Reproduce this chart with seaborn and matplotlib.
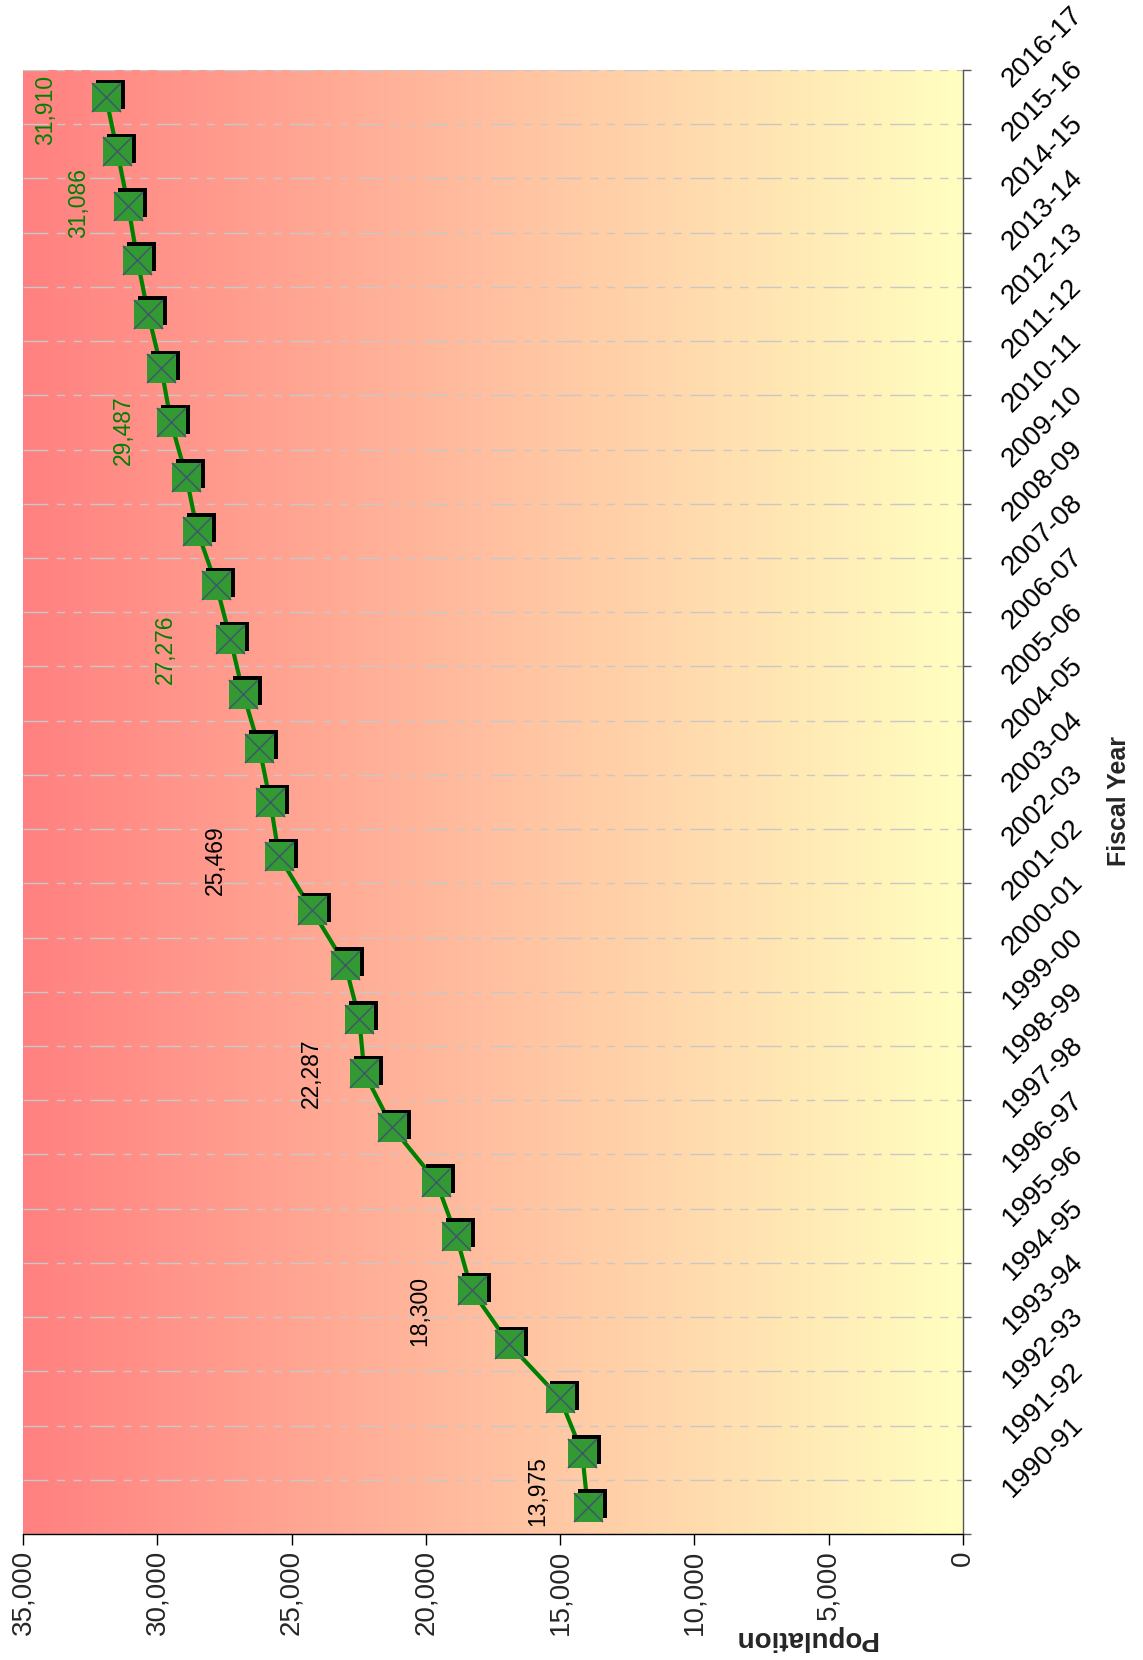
import numpy as np
import pandas as pd
import matplotlib
matplotlib.use("Agg")
import matplotlib.pyplot as plt
import matplotlib.transforms as mtransforms
import seaborn as sns

years = ["1990-91", "1991-92", "1992-93", "1993-94", "1994-95", "1995-96",
         "1996-97", "1997-98", "1998-99", "1999-00", "2000-01", "2001-02",
         "2002-03", "2003-04", "2004-05", "2005-06", "2006-07", "2007-08",
         "2008-09", "2009-10", "2010-11", "2011-12", "2012-13", "2013-14",
         "2014-15", "2015-16", "2016-17"]
population = [13975, 14180, 15000, 16890, 18300, 18870,
              19610, 21250, 22287, 22480, 23000, 24230,
              25469, 25790, 26200, 26800, 27276, 27800,
              28510, 28920, 29487, 29850, 30340, 30740,
              31086, 31490, 31910]

# years that carry a value label, and the label colour
label_years = ["1990-91", "1994-95", "1998-99", "2002-03",
               "2006-07", "2010-11", "2014-15", "2016-17"]
label_colors = ["black", "black", "black", "black",
                "#008000", "#008000", "#008000", "#008000"]
# nudges of the value labels, in pixels (right, down)
label_dx = [-50, -52, -53, -64, -65, -48, -50, -60]
label_dy = [-16, 21, 0, 4, 10, 8, -3, 13]

pop_ticks = [0, 5000, 10000, 15000, 20000, 25000, 30000, 35000]

sns.set_style("white")
plt.rcParams["font.family"] = ["Liberation Sans", "DejaVu Sans"]

df = pd.DataFrame({"year": years, "population": population})
df["pos"] = np.arange(len(df))

fig = plt.figure(figsize=(11.43, 16.60), dpi=100)
ax = fig.add_axes([23 / 1143, 126 / 1660, 940 / 1143, 1464 / 1660])

# gradient fill of the plot area
c0 = np.array([255, 128, 128]) / 255
c1 = np.array([255, 255, 192]) / 255
t = np.linspace(0, 1, 512)
img = c0[None, None, :] + (c1 - c0)[None, None, :] * t[None, :, None]
ax.imshow(img, extent=[0, 1, 0, 1], transform=ax.transAxes,
          aspect="auto", zorder=0, interpolation="bilinear")

# line
sns.lineplot(data=df, x="population", y="pos", sort=False, orient="y",
             estimator=None, color="#008000", linewidth=3.0, ax=ax, zorder=2)

# marker shadow, square, cross
msize = (29 * 0.72) ** 2
sns.scatterplot(data=df, x="population", y="pos", marker="s", s=msize,
                color="black", linewidth=0, ax=ax, zorder=3)
coll = ax.collections[-1]
coll.set_offset_transform(ax.transData +
                          mtransforms.ScaledTranslation(0.04, 0.035, fig.dpi_scale_trans))
sns.scatterplot(data=df, x="population", y="pos", marker="s", s=msize,
                color="#339933", linewidth=0, ax=ax, zorder=4)
sns.scatterplot(data=df, x="population", y="pos", marker="x", s=msize,
                color="#3d5a68", linewidth=1.1, ax=ax, zorder=5)

# value labels
for yr, c, dx, dy in zip(label_years, label_colors, label_dx, label_dy):
    i = years.index(yr)
    v = population[i]
    ax.annotate(f"{v:,}", xy=(v, i), xytext=(dx * 0.72, -dy * 0.72),
                textcoords="offset points", rotation=90, ha="center",
                va="center", fontsize=16.5, color=c, zorder=6)

ax.set_xlim(35000, 0)
ax.set_ylim(-0.5, len(years) - 0.5)

# population axis (bottom)
ax.set_xticks(pop_ticks)
ax.set_xticklabels([f"{v:,}" for v in pop_ticks], rotation=90, va="top", ha="center")
ax.tick_params(axis="x", bottom=True, direction="out", length=8, width=1,
               pad=3.6, color="black", labelsize=20)
ax.set_xlabel("")
ax.set_ylabel("")

# fiscal year axis (right)
ax.yaxis.tick_right()
ax.set_yticks(np.arange(-0.5, len(years), 1.0))
ax.set_yticklabels([])
ax.tick_params(axis="y", right=True, left=False, direction="out", length=6,
               width=1, color="#595959")
ax.grid(True, axis="y", color="#c8c8c8", linewidth=1,
        linestyle=(0, (18, 6, 6, 6, 6, 6)))
ax.grid(False, axis="x")
ax.set_axisbelow(True)

tr = mtransforms.blended_transform_factory(ax.transAxes, ax.transData) + \
    mtransforms.ScaledTranslation(0.49, 0.09, fig.dpi_scale_trans)
for i, yr in enumerate(years):
    ax.text(1, i, yr, transform=tr, rotation=45, rotation_mode="anchor",
            ha="left", va="baseline", fontsize=20, color="black")

for s in ["left", "top"]:
    ax.spines[s].set_visible(False)
ax.spines["bottom"].set_color("black")
ax.spines["bottom"].set_linewidth(1)
ax.spines["right"].set_color("#595959")
ax.spines["right"].set_linewidth(1)

fig.text(1119 / 1143, 1 - 801 / 1660, "Fiscal Year", rotation=90, ha="center",
         va="center", fontsize=18, fontweight="bold")
fig.text(805 / 1143, 1 - 1638 / 1660, "Population", rotation=180, ha="center",
         va="center", fontsize=20, fontweight="bold")

fig.savefig("out.png", dpi=100)
